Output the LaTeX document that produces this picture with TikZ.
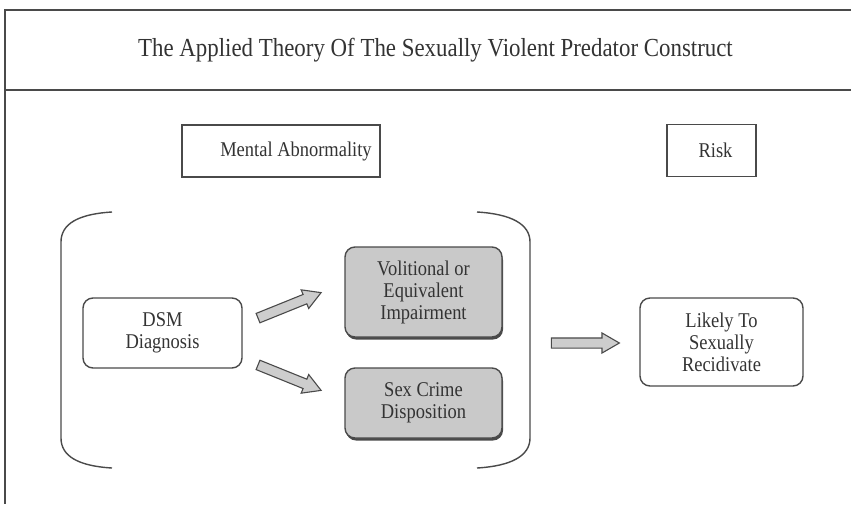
\documentclass[tikz,border=0pt]{standalone}
\usepackage{fontspec}
\setmainfont{Liberation Serif}[FakeStretch=0.88]
\usetikzlibrary{shapes.arrows}
\definecolor{linec}{HTML}{4A4A4A}
\definecolor{boxgray}{HTML}{C9C9C9}
\definecolor{arrgray}{HTML}{CDCDCD}
\begin{document}
\begin{tikzpicture}[x=1pt,y=-1pt,
  boxtext/.style={font=\fontsize{21}{22}\selectfont, align=center, text=black!80},
  plainbox/.style={boxtext, draw=linec, line width=1.4pt, inner sep=0pt},
  roundbox/.style={plainbox, rounded corners=10pt},
  graybox/.style={roundbox, fill=boxgray},
  blockarrow/.style={shape=single arrow, draw=linec, fill=arrgray, line width=1.1pt,
    inner sep=0pt, minimum height=68pt, single arrow head extend=5pt,
    single arrow tip angle=60, shape border uses incircle=false},
  bracketline/.style={draw=linec, line width=1.4pt}
]
\useasboundingbox (0,0) rectangle (851,504);
% frame
\draw[linec, line width=1.4pt] (851,10) -- (5,10) -- (5,504);
\draw[linec, line width=1.4pt] (5,90) -- (851,90);
\node[font=\fontsize{26}{28}\selectfont, text=black!80] (title) at (435.5,50) {The Applied Theory Of The Sexually Violent Predator Construct};

\node[plainbox, minimum width=198pt, minimum height=52pt] (mental) at (281,151) {\hspace*{30pt}Mental Abnormality};
\node[plainbox, minimum width=89pt, minimum height=52pt] (risk) at (711.5,150.5) {\hspace*{8pt}Risk};

% brackets
\draw[bracketline] (112,212) .. controls (78,214) and (61,224) .. (61,242) -- (61,438) .. controls (61,456) and (78,466) .. (112,468);
\draw[bracketline] (477,212) .. controls (511,214) and (530,224) .. (530,242) -- (530,438) .. controls (530,456) and (511,466) .. (477,468);

\node[roundbox, minimum width=159pt, minimum height=70pt] (dsm) at (162.5,333) {DSM\\Diagnosis};

\fill[linec] (346,250) [rounded corners=10pt] rectangle (503,339.5);
\node[graybox, minimum width=157pt, minimum height=90pt] (vol) at (423.5,292) {Volitional or\\Equivalent\\Impairment};
\fill[linec] (346,371) [rounded corners=10pt] rectangle (503,440.5);
\node[graybox, minimum width=157pt, minimum height=70pt] (sex) at (423.5,403) {Sex Crime\\Disposition};

\node[roundbox, minimum width=163pt, minimum height=88pt] (likely) at (721.5,342) {Likely To\\Sexually\\Recidivate};

% block arrows
\node[blockarrow, rotate=22] (a1) at (285.5,307) {\rule{0pt}{9pt}};
\node[blockarrow, rotate=-22] (a2) at (285.5,376) {\rule{0pt}{9pt}};
\node[blockarrow] (a3) at (581,343) {\rule{0pt}{9pt}};
\end{tikzpicture}
\end{document}
